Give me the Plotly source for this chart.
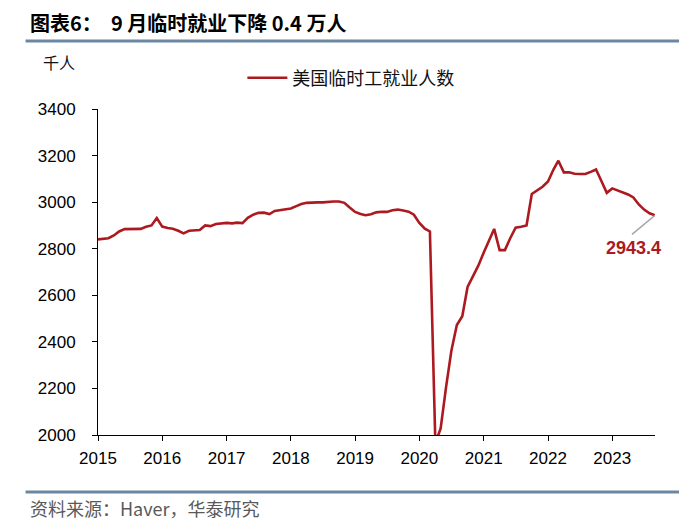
import pandas as pd
import plotly.graph_objects as go

# Monthly values (thousand persons), Jan 2015 - Sep 2023
v2015 = [2840, 2841, 2845, 2857, 2874, 2884, 2885, 2886, 2885, 2894, 2900, 2932]
v2016 = [2895, 2889, 2886, 2877, 2866, 2877, 2880, 2880, 2900, 2897, 2906, 2909]
v2017 = [2911, 2909, 2912, 2910, 2933, 2946, 2954, 2955, 2949, 2962, 2966, 2970]
v2018 = [2973, 2983, 2992, 2997, 2999, 2999, 2999, 3002, 3003, 3003, 2997, 2977]
v2019 = [2958, 2949, 2944, 2948, 2956, 2959, 2958, 2965, 2968, 2964, 2959, 2946]
v2020 = [2911, 2886, 2874, 1965, 2028, 2207, 2362, 2472, 2510, 2636, 2680, 2727]
v2021 = [2784, 2840, 2885, 2794, 2794, 2846, 2890, 2894, 2900, 3035, 3052, 3066]
v2022 = [3089, 3140, 3178, 3128, 3128, 3122, 3121, 3121, 3130, 3140, 3090, 3040]
v2023 = [3059, 3050, 3045, 3033, 3020, 2990, 2968, 2952, 2943.4]

values = v2015 + v2016 + v2017 + v2018 + v2019 + v2020 + v2021 + v2022 + v2023
start_month = "2015-01-01"
dates = pd.date_range(start_month, periods=len(values), freq="MS")

series_name = "美国临时工就业人数"
title_text = "图表6：  9 月临时就业下降 0.4 万人"
unit_text = "千人"
source_text = "资料来源：Haver，华泰研究"
year_ticks = [f"{y}-01-01" for y in range(2015, 2024)]
year_labels = [str(y) for y in range(2015, 2024)]
y_ticks = [2000, 2200, 2400, 2600, 2800, 3000, 3200, 3400]

RED = "#AC1A20"
RULE = "#6C87A2"
CJK = "Noto Sans CJK SC"
LAT = "Arial, Liberation Sans, sans-serif"

fig = go.Figure()
fig.add_trace(go.Scatter(
    x=dates, y=values, mode="lines", name=series_name,
    line=dict(color=RED, width=2.6),
))

W, H = 687, 528
OFF = 8  # page body margin
L, R, T, B = 97.5 - OFF, 655 - OFF, 109 - OFF, 435 - OFF
pw, ph = R - L, B - T

def px(x):
    return (x - OFF - L) / pw

def py(y):
    return (B - (y - OFF)) / ph

fig.update_layout(
    width=W, height=H,
    margin=dict(l=L, r=W - R, t=T, b=H - B, pad=0),
    paper_bgcolor="white", plot_bgcolor="white",
    showlegend=True,
    legend=dict(
        orientation="h", x=px(242), y=py(78), xanchor="left", yanchor="middle",
        font=dict(family=CJK, size=18, color="#111"),
        bgcolor="rgba(0,0,0,0)", itemwidth=40,
    ),
    xaxis=dict(
        type="date", range=[start_month, dates[-1]],
        tickvals=year_ticks, ticktext=year_labels,
        showgrid=False, zeroline=False,
        showline=True, linecolor="black", linewidth=1,
        ticks="outside", ticklen=5, tickcolor="black",
        tickfont=dict(family=LAT, size=17, color="black"),
        ticklabelstandoff=3,
    ),
    yaxis=dict(
        range=[2000, 3400], tickvals=y_ticks,
        showgrid=False, zeroline=False,
        showline=True, linecolor="black", linewidth=1,
        ticks="outside", ticklen=5, tickcolor="black",
        tickfont=dict(family=LAT, size=17, color="black"),
        ticklabelstandoff=13,
    ),
    shapes=[
        dict(type="line", xref="paper", yref="paper", x0=px(25), x1=px(680),
             y0=py(41), y1=py(41), line=dict(color=RULE, width=3)),
        dict(type="line", xref="paper", yref="paper", x0=px(25), x1=px(680),
             y0=py(492), y1=py(492), line=dict(color=RULE, width=3)),
        dict(type="line", xref="x", yref="y", xsizemode="pixel", ysizemode="pixel",
             xanchor=dates[-1], yanchor=values[-1], x0=0, x1=-23, y0=0, y1=-19,
             line=dict(color="#A6A6A6", width=1.5)),
    ],
    annotations=[
        dict(xref="paper", yref="paper", x=px(27), y=py(22), xanchor="left", yanchor="middle",
             text=f"<b>{title_text}</b>", showarrow=False,
             font=dict(family=CJK, size=20, color="black")),
        dict(xref="paper", yref="paper", x=px(40), y=py(62), xanchor="left", yanchor="middle",
             text=unit_text, showarrow=False,
             font=dict(family=CJK, size=16, color="#111")),
        dict(xref="paper", yref="paper", x=px(27), y=py(508), xanchor="left", yanchor="middle",
             text=source_text, showarrow=False,
             font=dict(family=CJK, size=18, color="#595959")),
        dict(xref="x", yref="y", x=dates[-1], y=values[-1], xanchor="center", yanchor="middle",
             xshift=-22, yshift=-33, text=f"<b>{values[-1]}</b>", showarrow=False,
             font=dict(family=LAT, size=18, color=RED)),
    ],
)

fig.write_html("out.html")
